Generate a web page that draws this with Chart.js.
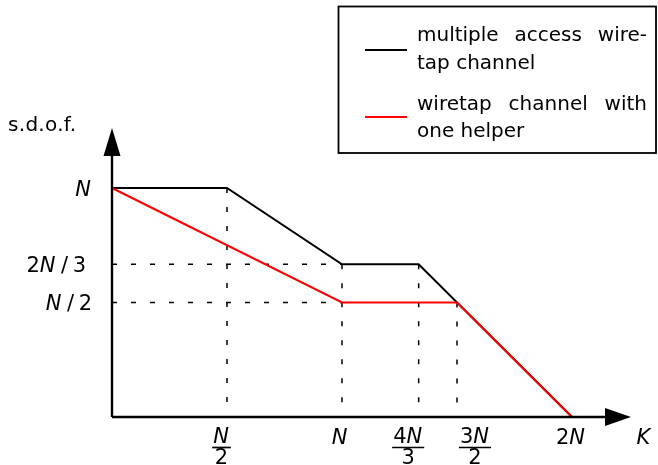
<!DOCTYPE html>
<html>
<head>
<meta charset="utf-8">
<script src="https://cdn.jsdelivr.net/npm/chart.js@4.4.1/dist/chart.umd.min.js"></script>
<style>
  html, body { margin: 0; padding: 0; background: #fff; }
  #wrap { position: relative; width: 658px; height: 465px; }
</style>
</head>
<body>
<div id="wrap"><canvas id="c" width="658" height="465"></canvas></div>
<script>
// ---- data (N normalised to 1) ----
const macX = [0, 0.5, 1, 4/3, 2];
const macY = [1, 1, 2/3, 2/3, 0];
const helperX = [0, 1, 1.5, 2];
const helperY = [1, 0.5, 0.5, 0];
const seriesNames = ["multiple access wire-tap channel", "wiretap channel with one helper"];
// guide (dotted) lines: [x0, y0, x1, y1]
const guides = [
  [0, 2/3, 1, 2/3],
  [0, 0.5, 1, 0.5],
  [0.5, 1, 0.5, 0],
  [1, 2/3, 1, 0],
  [4/3, 2/3, 4/3, 0],
  [1.5, 0.5, 1.5, 0]
];
// tick labels: value + label parts (num / den for fractions)
const xTicks = [
  {v: 0.5, num: [["N", 1]], den: [["2", 0]]},
  {v: 1, text: [["N", 1]]},
  {v: 4/3, num: [["4", 0], ["N", 1]], den: [["3", 0]]},
  {v: 1.5, num: [["3", 0], ["N", 1]], den: [["2", 0]]},
  {v: 2, text: [["2", 0], ["N", 1]]}
];
const yTicks = [
  {v: 1, text: [["N", 1]]},
  {v: 2/3, text: [["2", 0], ["N", 1], ["/", 0], ["3", 0]]},
  {v: 0.5, text: [["N", 1], ["/", 0], ["2", 0]]}
];
const xAxisTitle = "K";
const yAxisTitle = "s.d.o.f.";

const toPts = (xs, ys) => xs.map((x, i) => ({x: x, y: ys[i]}));

const FONT = '"DejaVu Sans"';
const SLASH_GAP = 4.5;
function runFont(it, size) { return (it ? 'oblique ' : '') + size + 'px ' + FONT; }
function runsWidth(ctx, runs, size) {
  let w = 0;
  runs.forEach(([t, it], i) => {
    ctx.font = runFont(it, size);
    w += ctx.measureText(t).width;
    if (t === '/' || (i + 1 < runs.length && runs[i + 1][0] === '/')) w += SLASH_GAP;
    if (it) w += 1;
  });
  return w;
}
function drawRuns(ctx, runs, x, y, align, size) {
  const w = runsWidth(ctx, runs, size);
  let cx = align === 'right' ? x - w : (align === 'center' ? x - w / 2 : x);
  ctx.textAlign = 'left';
  ctx.textBaseline = 'alphabetic';
  runs.forEach(([t, it], i) => {
    ctx.font = runFont(it, size);
    ctx.fillText(t, cx, y);
    cx += ctx.measureText(t).width;
    if (t === '/' || (i + 1 < runs.length && runs[i + 1][0] === '/')) cx += SLASH_GAP;
    if (it) cx += 1;
  });
  return w;
}

function drawJustified(ctx, text, x, y, width, justify) {
  const words = text.split(' ');
  if (!justify || words.length < 2) { ctx.fillText(text, x, y); return; }
  const wsum = words.reduce((s, w) => s + ctx.measureText(w).width, 0);
  const gap = (width - wsum) / (words.length - 1);
  let cx = x;
  words.forEach(w => { ctx.fillText(w, cx, y); cx += ctx.measureText(w).width + gap; });
}

const decor = {
  id: 'decor',
  afterDraw(chart) {
    const ctx = chart.ctx;
    const xs = chart.scales.x, ys = chart.scales.y;
    const x0 = xs.getPixelForValue(0), y0 = ys.getPixelForValue(0);
    ctx.save();
    ctx.fillStyle = '#000';
    ctx.strokeStyle = '#000';
    // axes
    ctx.lineWidth = 2.4;
    ctx.beginPath();
    ctx.moveTo(x0, y0); ctx.lineTo(608, y0);
    ctx.moveTo(x0, y0); ctx.lineTo(x0, 152);
    ctx.stroke();
    // arrow heads
    ctx.beginPath();
    ctx.moveTo(631, y0); ctx.lineTo(605, y0 - 9); ctx.lineTo(605, y0 + 9); ctx.closePath();
    ctx.fill();
    ctx.beginPath();
    ctx.moveTo(x0, 128); ctx.lineTo(x0 - 8.5, 156); ctx.lineTo(x0 + 8.5, 156); ctx.closePath();
    ctx.fill();

    // y tick labels
    const ySize = 21;
    yTicks.forEach((t, i) => {
      const py = ys.getPixelForValue(t.v);
      const rx = i === 1 ? 86 : 92;
      drawRuns(ctx, t.text, rx, py + 7.5, 'right', ySize);
    });
    // x tick labels
    const xOff = [-5.5, -2, -10.5, 18, -1];
    xTicks.forEach((t, i) => {
      const cx = xs.getPixelForValue(t.v) + xOff[i];
      if (t.text) {
        drawRuns(ctx, t.text, cx, 444, 'center', ySize);
      } else {
        const wn = runsWidth(ctx, t.num, ySize);
        drawRuns(ctx, t.num, cx, 443, 'center', ySize);
        drawRuns(ctx, t.den, cx, 464, 'center', ySize);
        ctx.lineWidth = 1.7;
        ctx.beginPath();
        ctx.moveTo(cx - wn / 2 - 1, 447.5); ctx.lineTo(cx + wn / 2 + 1, 447.5);
        ctx.stroke();
      }
    });
    // axis titles
    drawRuns(ctx, [[xAxisTitle, 1]], 644, 444, 'center', ySize);
    ctx.font = '20px ' + FONT;
    ctx.textAlign = 'left';
    ctx.textBaseline = 'alphabetic';
    if ('letterSpacing' in ctx) ctx.letterSpacing = '0.3px';
    ctx.fillText(yAxisTitle, 8, 131);
    if ('letterSpacing' in ctx) ctx.letterSpacing = '0px';

    // legend
    ctx.lineWidth = 1.8;
    ctx.strokeRect(338.5, 6.5, 317.5, 146.5);
    const colors = ['#000000', '#ff0000'];
    const lines = [["multiple access wire-", "tap channel"], ["wiretap channel with", "one helper"]];
    const base = [41, 68.5, 109.5, 137];
    const ly = [50, 117];
    ctx.font = '20px ' + FONT;
    lines.forEach((pair, i) => {
      ctx.strokeStyle = colors[i];
      ctx.lineWidth = 2;
      ctx.beginPath(); ctx.moveTo(365, ly[i]); ctx.lineTo(407, ly[i]); ctx.stroke();
      ctx.fillStyle = '#000';
      drawJustified(ctx, pair[0], 417, base[i * 2], 230, true);
      drawJustified(ctx, pair[1], 417, base[i * 2 + 1], 230, false);
    });
    ctx.restore();
  }
};

const guideSets = guides.map(g => ({
  data: [{x: g[0], y: g[1]}, {x: g[2], y: g[3]}],
  borderColor: '#000',
  borderWidth: 1.5,
  borderDash: [5, 14],
  showLine: true,
  pointRadius: 0,
  fill: false,
  clip: false
}));

new Chart(document.getElementById('c'), {
  type: 'scatter',
  data: {
    datasets: [
      {label: seriesNames[1], data: toPts(helperX, helperY), borderColor: '#ff0000', borderWidth: 2, showLine: true, pointRadius: 0, fill: false, clip: false},
      {label: seriesNames[0], data: toPts(macX, macY), borderColor: '#000000', borderWidth: 2, showLine: true, pointRadius: 0, fill: false, clip: false},
      ...guideSets
    ]
  },
  options: {
    responsive: false,
    animation: false,
    layout: {padding: {left: 112, right: 86, top: 188, bottom: 48}},
    plugins: {legend: {display: false}, tooltip: {enabled: false}},
    scales: {
      x: {type: 'linear', min: 0, max: 2, display: false},
      y: {type: 'linear', min: 0, max: 1, display: false}
    }
  },
  plugins: [decor]
});
</script>
</body>
</html>
